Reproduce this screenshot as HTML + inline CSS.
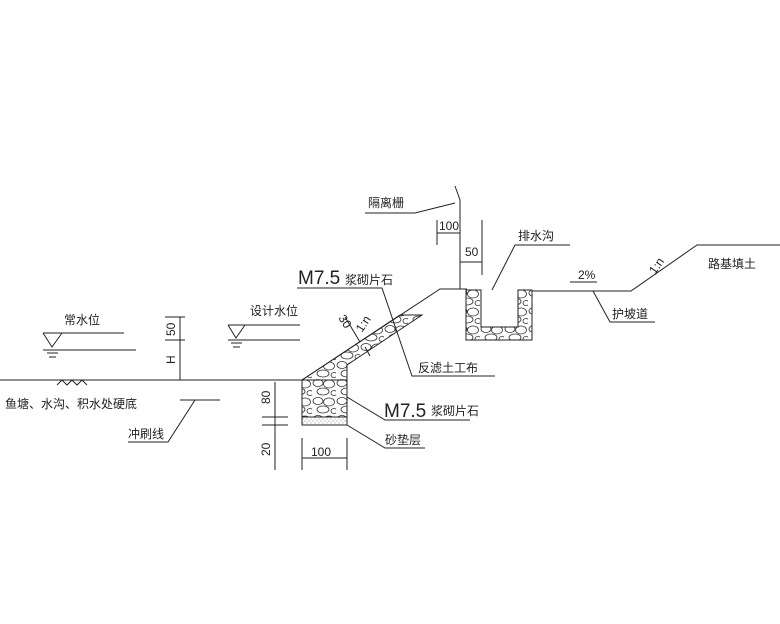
<!DOCTYPE html>
<html><head><meta charset="utf-8"><style>
html,body{margin:0;padding:0;background:#fff}
svg{display:block}
text{font-family:"Liberation Sans","Noto Sans CJK SC",sans-serif;fill:#222}
.c{font-size:12px}
</style></head><body>
<svg width="780" height="624" viewBox="0 0 780 624" xmlns="http://www.w3.org/2000/svg">
<defs>
<pattern id="rub" width="24" height="18" patternUnits="userSpaceOnUse">
<ellipse cx="6" cy="5" rx="5" ry="3.5" fill="none" stroke="#333" stroke-width="0.8"/>
<ellipse cx="17" cy="6" rx="5.5" ry="4" fill="none" stroke="#333" stroke-width="0.8"/>
<ellipse cx="11" cy="13.5" rx="6" ry="3.5" fill="none" stroke="#333" stroke-width="0.8"/>
<ellipse cx="22" cy="15" rx="3" ry="2.5" fill="none" stroke="#333" stroke-width="0.8"/>
</pattern>
<pattern id="sand" width="4" height="4" patternUnits="userSpaceOnUse">
<circle cx="1" cy="1" r="0.5" fill="#555"/><circle cx="3" cy="3" r="0.5" fill="#777"/>
</pattern>
</defs>
<g stroke="#222" stroke-width="1" fill="none">
<!-- ground -->
<line x1="0" y1="380" x2="302" y2="380"/>
<polyline points="302,380 440,289 467,289"/>
<polyline points="532,291 631,291 697,245 780,245"/>
<polyline points="455,186 460,200 460,289"/>
<!-- slope band -->
<polygon points="302,380 400,315 422,315 347,365 347,380" fill="url(#rub)"/>
<!-- toe block -->
<rect x="302" y="380" width="45" height="37" fill="url(#rub)"/>
<rect x="302" y="417" width="45" height="8" fill="url(#sand)"/>
<!-- ditch -->
<path d="M466,290 L466,340 L532,340 L532,290 L518,290 L518,327 L481,327 L481,290 Z" fill="url(#rub)"/>
<!-- water levels -->
<line x1="43" y1="333" x2="124" y2="333"/>
<line x1="43" y1="350" x2="136" y2="350"/>
<polyline points="43,333 52,347 62,333"/>
<line x1="47" y1="353" x2="58" y2="353"/><line x1="49" y1="357" x2="56" y2="357"/>
<line x1="228" y1="325" x2="300" y2="325"/>
<line x1="228" y1="340" x2="300" y2="340"/>
<polyline points="228,325 236,338 245,325"/>
<line x1="231" y1="343" x2="242" y2="343"/><line x1="233" y1="347" x2="240" y2="347"/>
<polyline points="57,385 62,380 67,385 72,380 77,385 82,380 87,385"/>
<!-- H dim -->
<line x1="180" y1="317" x2="180" y2="380"/>
<line x1="165" y1="317" x2="185" y2="317"/>
<line x1="165" y1="340" x2="185" y2="340"/>
<!-- left dims 80/20 -->
<line x1="275" y1="382" x2="275" y2="470"/>
<line x1="262" y1="417" x2="288" y2="417"/>
<line x1="262" y1="425" x2="288" y2="425"/>
<!-- 100 bottom -->
<line x1="302" y1="438" x2="302" y2="470"/>
<line x1="347" y1="438" x2="347" y2="470"/>
<line x1="302" y1="458" x2="347" y2="458"/>
<!-- top dims -->
<line x1="437" y1="220" x2="437" y2="245"/>
<line x1="437" y1="233" x2="460" y2="233"/>
<line x1="482" y1="220" x2="482" y2="275"/>
<line x1="460" y1="262" x2="482" y2="262"/>
<!-- leaders -->
<polyline points="365,213 415,213 455,203"/>
<polyline points="492,290 515,245 570,245"/>
<polyline points="297,288 382,288 412,376 495,376"/>
<polyline points="347,397 385,420 470,420"/>
<polyline points="347,425 385,448 425,448"/>
<polyline points="220,400 180,400"/>
<polyline points="195,400 168,442 128,442"/>
<polyline points="593,291 610,322 655,322"/>
<line x1="570" y1="282" x2="597" y2="282"/>
<line x1="345" y1="317" x2="360" y2="342"/>
<line x1="365" y1="347" x2="370" y2="356"/>
</g>
<g>
<text class="c" x="368" y="207">隔离栅</text>
<text x="439" y="230" font-size="12">100</text>
<text x="465" y="256" font-size="12">50</text>
<text class="c" x="518" y="240">排水沟</text>
<text x="298" y="284" font-size="19">M7.5</text><text class="c" x="345" y="284">浆砌片石</text>
<text class="c" x="418" y="372">反滤土工布</text>
<text x="384" y="417" font-size="19">M7.5</text><text class="c" x="431" y="415">浆砌片石</text>
<text class="c" x="385" y="444">砂垫层</text>
<text x="311" y="456" font-size="12">100</text>
<text class="c" x="64" y="324">常水位</text>
<text class="c" x="250" y="315">设计水位</text>
<text class="c" x="5" y="408">鱼塘、水沟、积水处硬底</text>
<text class="c" x="128" y="438">冲刷线</text>
<text class="c" x="612" y="318">护坡道</text>
<text x="578" y="279" font-size="12">2%</text>
<text class="c" x="708" y="268">路基填土</text>
<text font-size="12" transform="translate(175,336) rotate(-90)">50</text>
<text font-size="12" transform="translate(175,364) rotate(-90)">H</text>
<text font-size="12" transform="translate(270,404) rotate(-90)">80</text>
<text font-size="12" transform="translate(270,456) rotate(-90)">20</text>
<text font-size="12" transform="translate(338,318) rotate(57)">30</text>
<text font-size="12" transform="translate(362,333) rotate(-57)">1:n</text>
<text font-size="12" transform="translate(655,275) rotate(-55)">1:n</text>
</g>
</svg>
</body></html>
